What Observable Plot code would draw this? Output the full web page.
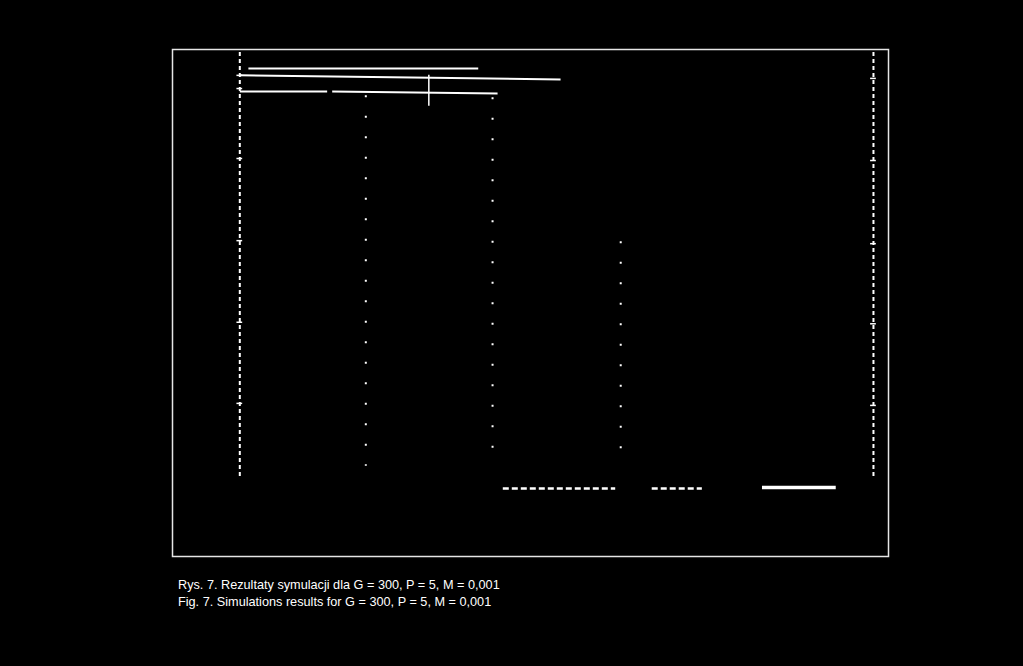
<!DOCTYPE html>
<html>
<head>
<meta charset="utf-8">
<script src="https://cdn.jsdelivr.net/npm/d3@7"></script>
<script src="https://cdn.jsdelivr.net/npm/@observablehq/plot@0.6"></script>
<style>
  html, body { margin: 0; padding: 0; background: #000; }
  #chart { width: 1023px; height: 570px; }
  .cap { font-family: "Liberation Sans", Arial, sans-serif; font-size: 12.7px; color: #fff; margin-left: 178px; line-height: 17px; }
</style>
</head>
<body>
<div id="chart"></div>
<div class="cap" style="margin-top:7px">Rys. 7. Rezultaty symulacji dla G = 300, P = 5, M = 0,001</div>
<div class="cap">Fig. 7. Simulations results for G = 300, P = 5, M = 0,001</div>
<script>
// Vertical dashed boundary lines (chart units 0–100)
const dashedX = [9.4, 97.9];
const dashedTop = [99.4, 99.4];
const dashedBottom = [15.6, 15.4];

// Vertical dotted lines
const dottedX = [27.0, 44.7, 62.6];
const dottedTop = [90.9, 90.5, 62.1];
const dottedBottom = [17.8, 17.8, 17.8];

// Small tick marks on the dashed lines
const tickLeftY = [94.9, 92.3, 78.5, 62.3, 46.2, 30.2];
const tickRightY = [94.3, 78.1, 61.7, 45.9, 29.8];

// Top horizontal segments
const segX1 = [10.6, 9.4, 9.4, 22.3];
const segX2 = [42.7, 54.2, 21.6, 45.4];
const segY1 = [96.25, 94.9, 91.7, 91.7];
const segY2 = [96.25, 94.1, 91.7, 91.3];

// Short vertical marker
const markX = [35.8];
const markY1 = [94.9];
const markY2 = [88.8];

// Bottom horizontal segments
const botX1 = [46.2, 67.0];
const botX2 = [61.9, 74.0];
const botY = [13.4, 13.4];
const solidX1 = [82.4];
const solidX2 = [92.7];
const solidY = [13.6];

const dashed = dashedX.map((x, i) => ({x, y1: dashedTop[i], y2: dashedBottom[i]}));
const dotted = dottedX.map((x, i) => ({x, y1: dottedTop[i], y2: dottedBottom[i]}));
const ticks = [
  ...tickLeftY.map(y => ({x: dashedX[0], y})),
  ...tickRightY.map(y => ({x: dashedX[1], y}))
];
const segs = segX1.map((x1, i) => ({x1, x2: segX2[i], y1: segY1[i], y2: segY2[i]}));
const marks = markX.map((x, i) => ({x, y1: markY1[i], y2: markY2[i]}));
const bots = botX1.map((x1, i) => ({x1, x2: botX2[i], y: botY[i]}));
const solids = solidX1.map((x1, i) => ({x1, x2: solidX2[i], y: solidY[i]}));

const chart = Plot.plot({
  width: 1023,
  height: 570,
  marginLeft: 172,
  marginRight: 135,
  marginTop: 49,
  marginBottom: 14,
  style: {background: "#000"},
  x: {domain: [0, 100], axis: null},
  y: {domain: [0, 100], axis: null},
  marks: [
    Plot.frame({stroke: "#e6e6e6", strokeWidth: 1.5}),
    Plot.ruleX(dashed, {x: "x", y1: "y1", y2: "y2", stroke: "#fff", strokeWidth: 2, strokeDasharray: "4,3"}),
    Plot.ruleX(dotted, {x: "x", y1: "y1", y2: "y2", stroke: "#fff", strokeWidth: 2, strokeDasharray: "2,18.5"}),
    Plot.ruleY(ticks, {x1: d => d.x - 0.4, x2: d => d.x + 0.4, y: "y", stroke: "#fff", strokeWidth: 1.5}),
    Plot.link(segs, {x1: "x1", x2: "x2", y1: "y1", y2: "y2", stroke: "#fff", strokeWidth: 2}),
    Plot.ruleX(marks, {x: "x", y1: "y1", y2: "y2", stroke: "#fff", strokeWidth: 1.5}),
    Plot.ruleY(bots, {x1: "x1", x2: "x2", y: "y", stroke: "#fff", strokeWidth: 2.5, strokeDasharray: "6,3"}),
    Plot.ruleY(solids, {x1: "x1", x2: "x2", y: "y", stroke: "#fff", strokeWidth: 3.5})
  ]
});
document.getElementById("chart").appendChild(chart);
</script>
</body>
</html>
